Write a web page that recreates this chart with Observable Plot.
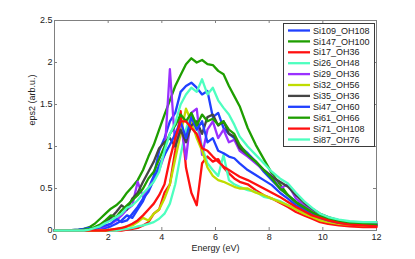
<!DOCTYPE html>
<html><head><meta charset="utf-8">
<script src="https://cdn.jsdelivr.net/npm/d3@7"></script>
<script src="https://cdn.jsdelivr.net/npm/@observablehq/plot@0.6"></script>
<style>body{margin:0;background:#fff}#chart{width:415px;height:259px}</style>
</head><body><div id="chart"></div>
<script>
const energy = [0,0.5,0.9,1.1,1.3,1.5,1.7,1.9,
 2.1,2.3,2.5,2.7,2.9,3.1,3.3,3.5,3.7,3.9,4.1,4.3,4.5,4.7,4.9,5.1,5.3,5.5,5.7,5.9,6.1,6.3,6.5,6.7,6.9,
 7.2,7.5,7.8,8.1,8.4,8.7,9.0,9.3,9.6,9.9,10.2,
 10.6,11.0,11.5,12.0];

const si109_OH108 = [0,0,0,0,0.01,0.01,0.02,0.03,
 0.05,0.08,0.12,0.18,0.15,0.25,0.35,0.5,0.65,0.95,1.1,1.3,1.4,1.65,1.72,1.76,1.7,1.62,1.66,1.35,1.4,1.22,1.15,1.1,1.0,
 0.92,0.82,0.7,0.6,0.5,0.42,0.34,0.27,0.21,0.17,0.13,
 0.1,0.08,0.07,0.06];
const si147_OH100 = [0,0,0.01,0.02,0.04,0.08,0.14,0.2,
 0.26,0.3,0.36,0.45,0.52,0.6,0.72,0.88,1.02,1.2,1.38,1.55,1.72,1.85,1.98,2.05,2.0,2.03,1.98,1.97,1.9,1.86,1.72,1.6,1.48,
 1.22,1.02,0.85,0.68,0.55,0.42,0.33,0.26,0.2,0.16,0.13,
 0.1,0.09,0.08,0.08];
const si17_OH36 = [0,0,0,0,0,0,0,0,
 0,0,0,0.01,0.02,0.03,0.06,0.1,0.2,0.25,0.45,0.55,0.95,1.42,0.75,0.45,0.3,0.8,0.88,0.82,0.85,0.75,0.68,0.62,0.58,
 0.55,0.48,0.42,0.38,0.33,0.28,0.22,0.18,0.14,0.1,0.08,
 0.06,0.05,0.04,0.04];
const si26_OH48 = [0,0,0,0,0,0,0,0,
 0,0,0.01,0.02,0.03,0.05,0.06,0.08,0.1,0.14,0.2,0.32,0.55,0.9,1.2,1.4,1.25,1.0,0.8,0.72,0.65,0.9,0.6,0.55,0.52,
 0.48,0.46,0.4,0.38,0.35,0.3,0.26,0.21,0.17,0.14,0.11,
 0.09,0.08,0.07,0.07];
const si29_OH36 = [0,0,0,0.01,0.01,0.02,0.03,0.05,
 0.08,0.12,0.18,0.25,0.3,0.58,0.4,0.5,0.6,0.72,0.9,1.92,1.0,1.3,0.85,1.4,1.45,0.9,1.2,1.3,1.1,1.2,1.05,1.08,0.95,
 0.88,0.8,0.72,0.65,0.5,0.55,0.38,0.3,0.25,0.18,0.15,
 0.12,0.1,0.09,0.08];
const si32_OH56 = [0,0,0,0,0,0,0,0,
 0.01,0.02,0.03,0.05,0.06,0.1,0.15,0.12,0.2,0.25,0.38,0.55,0.85,1.15,1.45,1.3,1.1,0.95,0.75,0.65,0.6,0.58,0.55,0.52,0.5,
 0.5,0.45,0.42,0.38,0.34,0.3,0.25,0.2,0.16,0.12,0.1,
 0.08,0.07,0.06,0.06];
const si35_OH36 = [0,0,0,0,0.01,0.02,0.05,0.1,
 0.15,0.22,0.3,0.25,0.38,0.45,0.58,0.7,0.82,0.98,1.05,1.1,1.0,1.2,1.05,1.25,1.3,1.15,1.35,1.38,1.25,1.3,1.15,1.12,0.98,
 0.9,0.82,0.72,0.64,0.58,0.52,0.42,0.33,0.26,0.2,0.16,
 0.12,0.1,0.1,0.1];
const si47_OH60 = [0,0,0.01,0.02,0.03,0.02,0.04,0.06,
 0.08,0.14,0.1,0.12,0.2,0.28,0.38,0.46,0.6,0.78,0.9,1.02,1.15,1.3,1.1,1.35,1.2,1.3,1.05,1.1,0.95,0.92,0.88,0.86,0.8,
 0.72,0.66,0.6,0.54,0.45,0.38,0.3,0.24,0.19,0.15,0.12,
 0.09,0.08,0.07,0.06];
const si61_OH66 = [0,0,0,0.01,0.02,0.04,0.07,0.12,
 0.18,0.16,0.24,0.3,0.36,0.42,0.5,0.62,0.7,0.85,1.0,1.15,1.25,1.38,1.3,1.4,1.25,1.38,1.3,1.33,1.26,1.3,1.2,1.15,1.02,
 0.9,0.82,0.72,0.62,0.5,0.42,0.34,0.28,0.22,0.17,0.14,
 0.11,0.09,0.08,0.07];
const si71_OH108 = [0,0,0,0,0,0,0,0,
 0.01,0.02,0.03,0.05,0.08,0.12,0.18,0.25,0.32,0.42,0.55,0.85,1.1,1.3,1.3,1.22,1.15,0.98,0.95,0.88,0.82,0.76,0.72,0.68,0.64,
 0.6,0.55,0.5,0.45,0.4,0.34,0.28,0.23,0.18,0.15,0.12,
 0.09,0.07,0.06,0.05];
const si87_OH76 = [0,0,0,0,0.01,0.03,0.05,0.09,
 0.12,0.16,0.2,0.27,0.3,0.36,0.44,0.51,0.58,0.7,0.95,1.15,1.28,1.5,1.62,1.7,1.65,1.8,1.62,1.7,1.55,1.46,1.38,1.26,1.12,
 1.0,0.9,0.8,0.7,0.62,0.56,0.45,0.35,0.27,0.2,0.16,
 0.13,0.11,0.1,0.1];

const seriesNames = ["Si109_OH108","Si147_OH100","Si17_OH36","Si26_OH48","Si29_OH36","Si32_OH56","Si35_OH36","Si47_OH60","Si61_OH66","Si71_OH108","Si87_OH76"];
const seriesValues = [si109_OH108,si147_OH100,si17_OH36,si26_OH48,si29_OH36,si32_OH56,si35_OH36,si47_OH60,si61_OH66,si71_OH108,si87_OH76];
const seriesColors = ["#2040ff","#1e9e00","#ff1010","#4dffbf","#9a30ff","#bfdc00","#454545","#2040ff","#1e9e00","#ff1010","#4dffbf"];

const xTicks = [0,2,4,6,8,10,12];
const yTicks = [0,0.5,1,1.5,2,2.5];
const xLabel = "Energy (eV)";
const yLabel = "eps2 (arb.u.)";

const W = 415, H = 259, mL = 54, mR = 39, mT = 20, mB = 29;
const innerW = W - mL - mR, innerH = H - mT - mB, tickLen = 3;
const axisColor = "#808080";

const lineMarks = seriesValues.map((vals, k) =>
  Plot.line(energy.map((e, i) => ({e, v: vals[i]})), {x: "e", y: "v", stroke: seriesColors[k], strokeWidth: 2.3, strokeLinejoin: "round"}));

const chart = Plot.plot({
  width: W, height: H, marginLeft: mL, marginRight: mR, marginTop: mT, marginBottom: mB,
  style: {fontFamily: "'Liberation Sans', Arial, sans-serif", fontSize: "9px", color: "#222", background: "#fff"},
  x: {domain: [0, 12]},
  y: {domain: [0, 2.5]},
  marks: [
    Plot.frame({stroke: axisColor}),
    Plot.tickX(xTicks, {x: d => d, stroke: axisColor, insetTop: innerH - tickLen}),
    Plot.tickX(xTicks, {x: d => d, stroke: axisColor, insetBottom: innerH - tickLen}),
    Plot.tickY(yTicks, {y: d => d, stroke: axisColor, insetRight: innerW - tickLen}),
    Plot.tickY(yTicks, {y: d => d, stroke: axisColor, insetLeft: innerW - tickLen}),
    Plot.axisX(xTicks, {tickSize: 0, tickPadding: 3, label: null, tickFormat: d => String(d)}),
    Plot.axisY(yTicks, {tickSize: 0, tickPadding: 2, label: null, tickFormat: d => String(d)}),
    Plot.text([xLabel], {frameAnchor: "bottom", dy: 14, lineAnchor: "top", fill: "#222"}),
    Plot.text([yLabel], {frameAnchor: "left", dx: -22, rotate: -90, fill: "#222"}),
    ...lineMarks
  ]
});
document.getElementById("chart").appendChild(chart);

// legend
const svg = d3.select(chart);
const lg = svg.append("g")
  .attr("font-family", "'Liberation Sans', Arial, sans-serif")
  .attr("font-size", "9px")
  .attr("text-anchor", "start");
const lx = 283.5, ly = 23.5, lw = 91, lh = 123, row0 = 30.5, rowStep = 10.9;
lg.append("rect").attr("x", lx).attr("y", ly).attr("width", lw).attr("height", lh).attr("fill", "#fff").attr("stroke", "#3a3a3a").attr("stroke-width", 1);
seriesNames.forEach((n, i) => {
  const y = row0 + i * rowStep;
  lg.append("line").attr("x1", 288).attr("x2", 310).attr("y1", y).attr("y2", y).attr("stroke", seriesColors[i]).attr("stroke-width", 2.3);
  lg.append("text").attr("x", 313).attr("y", y).attr("dy", "0.35em").attr("text-anchor", "start").style("text-anchor", "start").attr("fill", "#222").text(n);
});
</script></body></html>
